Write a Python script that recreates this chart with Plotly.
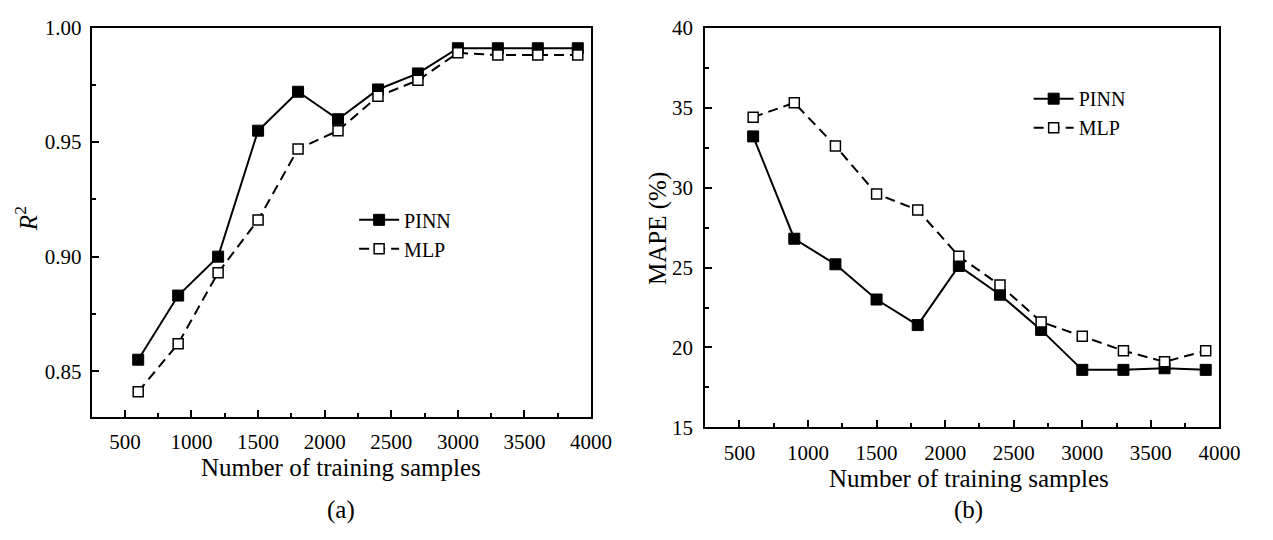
import plotly.graph_objects as go

x_samples = [600, 900, 1200, 1500, 1800, 2100, 2400, 2700, 3000, 3300, 3600, 3900]
r2_pinn = [0.855, 0.883, 0.900, 0.955, 0.972, 0.960, 0.973, 0.980, 0.991, 0.991, 0.991, 0.991]
r2_mlp = [0.841, 0.862, 0.893, 0.916, 0.947, 0.955, 0.970, 0.977, 0.989, 0.988, 0.988, 0.988]
mape_pinn = [33.2, 26.8, 25.2, 23.0, 21.4, 25.1, 23.3, 21.1, 18.6, 18.6, 18.7, 18.6]
mape_mlp = [34.4, 35.3, 32.6, 29.6, 28.6, 25.7, 23.9, 21.6, 20.7, 19.8, 19.1, 19.8]

x_ticks = [500, 1000, 1500, 2000, 2500, 3000, 3500, 4000]
r2_ticks = [0.85, 0.90, 0.95, 1.00]
r2_ticktext = ["0.85", "0.90", "0.95", "1.00"]
mape_ticks = [15, 20, 25, 30, 35, 40]

FONT = "Liberation Serif"
OFF = 8                      # default body margin of the html page
W, H = 1273 - 2 * OFF, 540 - 2 * OFF

def fx(p):
    return (p - OFF) / W

def fy(p):
    return 1 - (p - OFF) / H

fig = go.Figure()

def add_pair(xa, ya, y1, y2, legend):
    fig.add_trace(go.Scatter(x=x_samples, y=y1, name="PINN", mode="lines+markers",
                             line=dict(color="black", width=2, dash="solid"),
                             marker=dict(symbol="square", size=11, color="black",
                                         line=dict(color="black", width=1)),
                             xaxis=xa, yaxis=ya, legend=legend))
    fig.add_trace(go.Scatter(x=x_samples, y=y2, name="MLP", mode="lines+markers",
                             line=dict(color="black", width=2, dash="10px,6px"),
                             marker=dict(symbol="square", size=10, color="white",
                                         line=dict(color="black", width=1.5)),
                             xaxis=xa, yaxis=ya, legend=legend))

add_pair("x", "y", r2_pinn, r2_mlp, "legend")
add_pair("x2", "y2", mape_pinn, mape_mlp, "legend2")

axis_common = dict(showline=True, linecolor="black", linewidth=2, mirror=True,
                   ticks="inside", ticklen=7, tickwidth=2, tickcolor="black",
                   showgrid=False, zeroline=False, ticklabeloverflow="allow",
                   tickfont=dict(family=FONT, size=21, color="black"))

TITLE_FONT = dict(family=FONT, size=25, color="black")

def note(text, x, y, angle=0):
    return dict(text=text, x=fx(x), y=fy(y), xref="paper", yref="paper",
                xanchor="center", yanchor="middle", textangle=angle,
                showarrow=False, font=TITLE_FONT)

fig.update_layout(
    width=W, height=H,
    margin=dict(l=0, r=0, t=0, b=0),
    plot_bgcolor="white", paper_bgcolor="white",
    font=dict(family=FONT, color="black"),
    xaxis=dict(domain=[fx(93), fx(601)], range=[250, 4000], tickvals=x_ticks,
               minor=dict(ticks="inside", ticklen=4, tickwidth=2, dtick=250, tick0=0),
               ticklabelstandoff=5, anchor="y", **axis_common),
    yaxis=dict(domain=[fy(424), fy(16)], range=[0.83, 1.0], tickvals=r2_ticks, ticktext=r2_ticktext,
               minor=dict(ticks="inside", ticklen=4, tickwidth=2, dtick=0.025, tick0=0),
               ticklabelstandoff=4, anchor="x", **axis_common),
    xaxis2=dict(domain=[fx(717), fx(1240)], range=[250, 4000], tickvals=x_ticks,
                minor=dict(ticks="inside", ticklen=4, tickwidth=2, dtick=250, tick0=0),
                ticklabelstandoff=5, anchor="y2", **axis_common),
    yaxis2=dict(domain=[fy(435), fy(16)], range=[15, 40], tickvals=mape_ticks,
                minor=dict(ticks="inside", ticklen=4, tickwidth=2, dtick=2.5, tick0=0),
                ticklabelstandoff=6, anchor="x2", **axis_common),
    legend=dict(x=fx(360), y=fy(197), xanchor="left", yanchor="top",
                bgcolor="rgba(0,0,0,0)", borderwidth=0, font=dict(family=FONT, size=20),
                itemwidth=40, tracegroupgap=0),
    legend2=dict(x=fx(1046), y=fy(70), xanchor="left", yanchor="top",
                 bgcolor="rgba(0,0,0,0)", borderwidth=0, font=dict(family=FONT, size=20),
                 itemwidth=40, tracegroupgap=0),
    showlegend=True,
    annotations=[
        note("Number of training samples", 347, 477),
        note("Number of training samples", 985, 489),
        note("<i>R</i><sup>2</sup>", 27, 216, -90),
        note("MAPE (%)", 669, 226, -90),
        note("(a)", 347, 522),
        note("(b)", 985, 522),
    ],
)

fig.write_html("out.html")
